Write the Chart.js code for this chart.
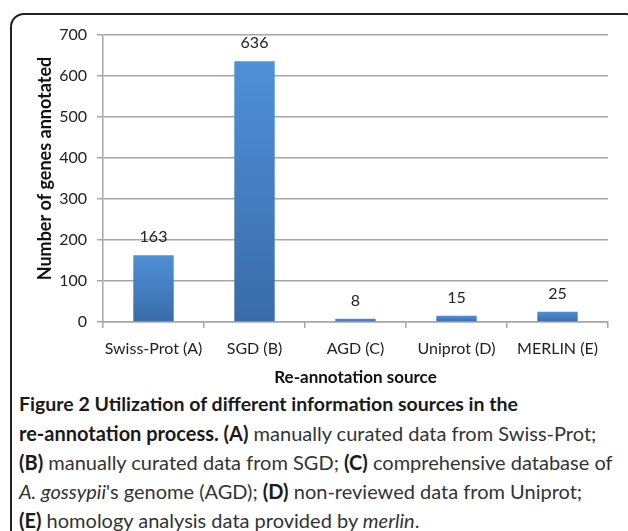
<!DOCTYPE html>
<html>
<head>
<meta charset="utf-8">
<script src="https://cdn.jsdelivr.net/npm/chart.js@4.4.1/dist/chart.umd.min.js"></script>
<style>
  html, body { margin: 0; padding: 0; background: #fff; }
  body { width: 628px; height: 531px; position: relative; overflow: hidden; }
  #box { position: absolute; left: 10px; top: 13px; width: 630px; height: 560px;
         border: 2px solid #222; border-radius: 14px; box-sizing: border-box; }
  #wrap { position: absolute; left: 12px; top: 15px; width: 613px; height: 377px; }
  .cap { position: absolute; left: 19px; font-family: "Lato", "Open Sans", sans-serif;
         color: #333; white-space: nowrap; font-size: 20px; transform-origin: 0 0; }
  .cap b { color: #1a1a1a; }
</style>
</head>
<body>
<div id="box"></div>
<div id="wrap"><canvas id="c" width="613" height="377"></canvas></div>
<div class="cap" id="l1" style="top:392px;font-size:19.5px;"><b>Figure 2 Utilization of different information sources in the</b></div>
<div class="cap" id="l2" style="top:421px;"><b>re-annotation process. (A)</b> manually curated data from Swiss-Prot;</div>
<div class="cap" id="l3" style="top:450px;"><b>(B)</b> manually curated data from SGD; <b>(C)</b> comprehensive database of</div>
<div class="cap" id="l4" style="top:479px;"><i>A. gossypii</i>'s genome (AGD); <b>(D)</b> non-reviewed data from Uniprot;</div>
<div class="cap" id="l5" style="top:508px;"><b>(E)</b> homology analysis data provided by <i>merlin</i>.</div>
<script>
const categories = ["Swiss-Prot (A)", "SGD (B)", "AGD (C)", "Uniprot (D)", "MERLIN (E)"];
const geneCounts = [163, 636, 8, 15, 25];
const yTicks = [0, 100, 200, 300, 400, 500, 600, 700];
const yTitle = "Number of genes annotated";
const xTitle = "Re-annotation source";

const chartFont = '"Lato", "Open Sans", sans-serif';

const valueLabels = {
  id: 'valueLabels',
  afterDatasetsDraw(chart) {
    const ctx = chart.ctx;
    const meta = chart.getDatasetMeta(0);
    ctx.save();
    ctx.font = '16px ' + chartFont;
    ctx.fillStyle = '#222';
    ctx.textAlign = 'center';
    ctx.textBaseline = 'bottom';
    meta.data.forEach((bar, i) => {
      ctx.fillText(String(chart.data.datasets[0].data[i]), bar.x, bar.y - 10);
    });
    ctx.restore();
  }
};

const yAxisTitle = {
  id: 'yAxisTitle',
  afterDraw(chart) {
    const ctx = chart.ctx;
    const area = chart.chartArea;
    ctx.save();
    ctx.translate(33, (area.top + area.bottom) / 2 - 10);
    ctx.rotate(-Math.PI / 2);
    ctx.font = 'bold 18px ' + chartFont;
    ctx.fillStyle = '#111';
    ctx.textAlign = 'center';
    ctx.textBaseline = 'middle';
    ctx.fillText(yTitle, 0, 0);
    ctx.restore();
  }
};

function barFill(context) {
  const chart = context.chart;
  if (!chart.chartArea) return '#4a86cb';
  const ys = chart.scales.y;
  const v = context.raw;
  const top = ys.getPixelForValue(v);
  const bottom = ys.getPixelForValue(0);
  if (!isFinite(top) || bottom - top < 1) return '#4a86cb';
  const g = chart.ctx.createLinearGradient(0, top, 0, bottom);
  g.addColorStop(0, '#4f90d8');
  g.addColorStop(1, '#3a6ba8');
  return g;
}

new Chart(document.getElementById('c'), {
  type: 'bar',
  data: {
    labels: categories,
    datasets: [{
      data: geneCounts,
      backgroundColor: barFill,
      borderWidth: 0,
      barPercentage: 0.4,
      categoryPercentage: 1.0
    }]
  },
  options: {
    responsive: false,
    animation: false,
    devicePixelRatio: 1,
    layout: { padding: { left: 19, right: 17, top: 20, bottom: 0 } },
    plugins: { legend: { display: false }, tooltip: { enabled: false } },
    scales: {
      x: {
        offset: true,
        grid: { offset: true, drawOnChartArea: false, drawTicks: true, tickLength: 6, color: '#a6a6a6', lineWidth: 1.5 },
        border: { color: '#a6a6a6', width: 1.5 },
        ticks: { color: '#222', font: { family: chartFont, size: 16 }, padding: 11, maxRotation: 0, autoSkip: false },
        title: { display: true, text: xTitle, color: '#111', font: { family: chartFont, size: 17, weight: 'bold' }, padding: { top: 6 } },
        afterFit(scale) { scale.height = 70; }
      },
      y: {
        min: 0, max: 700,
        afterBuildTicks(scale) { scale.ticks = yTicks.map(v => ({ value: v })); },
        grid: { color: '#a6a6a6', lineWidth: 1.5, tickLength: 6 },
        border: { color: '#a6a6a6', width: 1.5 },
        ticks: { color: '#222', font: { family: chartFont, size: 16 }, padding: 10 },
        title: { display: false },
        afterFit(scale) { scale.width = 72; }
      }
    }
  },
  plugins: [valueLabels, yAxisTitle]
});
</script>
</body>
</html>
